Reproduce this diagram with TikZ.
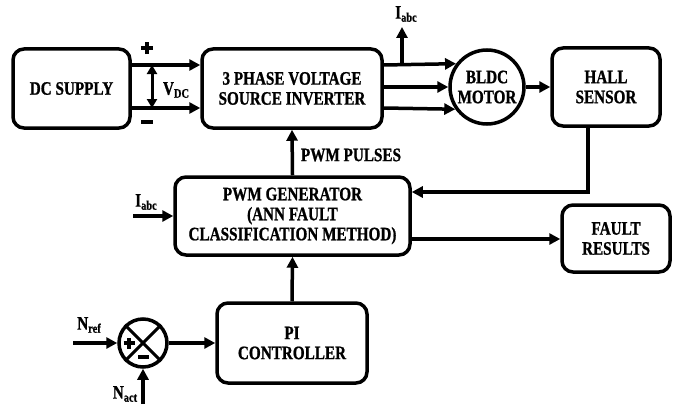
\documentclass[tikz,border=0pt]{standalone}
\usepackage{fontspec}
\newfontfamily\lbl{Liberation Serif}[FakeStretch=0.8, FakeBold=1]
\usetikzlibrary{arrows.meta}
\newcommand\sbs[1]{\raisebox{-0.35ex}{\fontsize{13}{13}\selectfont #1}}
\newcommand\thkplus[2]{\makebox[#1][c]{\rule[-0.5\dimexpr#2\relax]{#1}{#2}\hspace*{-#1}\hspace*{0.5\dimexpr#1\relax}\hspace*{-0.5\dimexpr#2\relax}\rule[-0.5\dimexpr#1\relax]{#2}{#1}\hspace*{0.5\dimexpr#1\relax}\hspace*{-0.5\dimexpr#2\relax}}}
\begin{document}
\begin{tikzpicture}[x={(1pt,0)},y={(0,-1pt)},
  txt/.style={font=\lbl\bfseries\fontsize{19}{20}\selectfont, align=center, inner sep=0pt},
  blk/.style={txt, draw, line width=3.5pt, rounded corners=11pt},
  arr/.style={line width=3.5pt, -{Triangle[length=11pt,width=11pt]}},
  ln/.style={line width=3pt}]
\useasboundingbox (0,0) rectangle (676,404);
% blocks
\node[blk, minimum width=117pt, minimum height=79pt] (dc) at (71.5,88.5) {DC SUPPLY};
\node[blk, minimum width=180pt, minimum height=79pt] (inv) at (292,88.5) {3 PHASE VOLTAGE\\SOURCE INVERTER};
\node[txt, draw, circle, line width=3.5pt, minimum size=74pt] (motor) at (487,87) {BLDC\\MOTOR};
\node[blk, minimum width=108pt, minimum height=78pt] (hall) at (606,87) {HALL\\SENSOR};
\node[blk, minimum width=235pt, minimum height=78pt] (gen) at (292.5,216) {PWM GENERATOR\\(ANN FAULT\\CLASSIFICATION METHOD)};
\node[blk, minimum width=108pt, minimum height=67pt] (fault) at (616,238.5) {FAULT\\RESULTS};
\node[blk, minimum width=150pt, minimum height=80pt] (pi) at (292,343) {PI\\CONTROLLER};
\node[draw, circle, line width=3.5pt, minimum size=48pt, inner sep=0pt] (sum) at (143,343) {};
% level coordinates
\coordinate (yt) at (0,65);
\coordinate (yb) at (0,108);
\coordinate (ym) at (0,87);
\coordinate (tap) at (402,65);
\coordinate (iabctop) at (402,27);
\coordinate (fb) at (588,192);
\coordinate (fo) at (0,239);
\coordinate (iin) at (133,216);
\coordinate (nref) at (73,343);
\coordinate (nact) at (143,404);
\coordinate (vt) at (152,65);
\coordinate (vb) at (152,108);
% DC to inverter
\draw[arr] (dc.east|-yt) -- (inv.west|-yt);
\draw[arr] (dc.east|-yb) -- (inv.west|-yb);
\draw[line width=3pt, {Triangle[length=9pt,width=10pt]}-{Triangle[length=9pt,width=10pt]}] (vt) -- (vb);
\node[txt] (vdc) at (176,90) {V\sbs{DC}};
\node[inner sep=0pt] (plus) at (147,48) {\thkplus{12pt}{4pt}};
\node[inner sep=0pt, fill=black, minimum width=12pt, minimum height=4pt] (minus) at (147,122) {};
% inverter to motor
\draw[arr] (inv.east|-yt) -- (motor.143);
\draw[arr] (inv.east|-ym) -- (motor.west);
\draw[arr] (inv.east|-yb) -- (motor.215);
\draw[arr] (tap) -- (iabctop);
\node[txt] (iabc1) at (406,14) {I\sbs{abc}};
% motor to hall
\draw[arr] (motor.east) -- (hall.west|-ym);
% hall feedback
\draw[arr] (hall.south-|fb) -- (fb) -- (gen.east|-fb);
% PWM pulses
\draw[arr] (gen.north) -- (inv.south);
\node[txt] (pwmp) at (351,155) {PWM PULSES};
% gen to fault
\draw[arr] (gen.east|-fo) -- (fault.west|-fo);
% Iabc input
\draw[arr] (iin) -- (gen.west|-iin);
\node[txt] (iabc2) at (146,202) {I\sbs{abc}};
% PI to gen
\draw[arr] (pi.north) -- (gen.south);
% sum junction
\draw[ln] (sum.45) -- (sum.225) (sum.135) -- (sum.315);
\node[inner sep=0pt] (sp) at (129,343) {\thkplus{11pt}{3.5pt}};
\node[inner sep=0pt, fill=black, minimum width=11pt, minimum height=3.5pt] (sm) at (143,357) {};
\draw[arr] (nref) -- (sum.west);
\draw[arr] (nact) -- (sum.south);
\draw[arr] (sum.east) -- (pi.west);
\node[txt] (nrefl) at (89,325) {N\sbs{ref}};
\node[txt] (nactl) at (125,394) {N\sbs{act}};
\end{tikzpicture}
\end{document}
